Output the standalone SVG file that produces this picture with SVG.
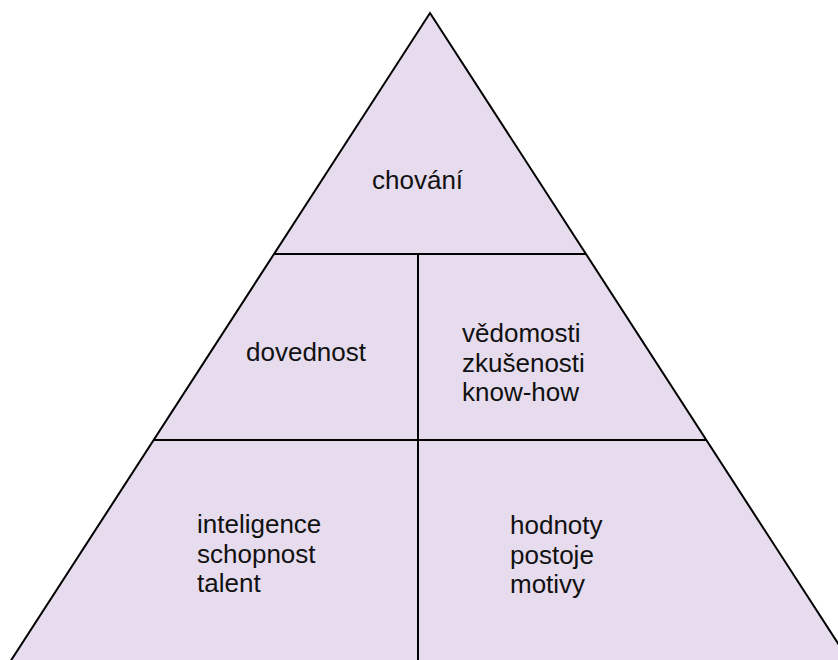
<svg xmlns="http://www.w3.org/2000/svg" width="838" height="660" viewBox="0 0 838 660">
  <style>
    .edge { stroke: #000; stroke-width: 2; fill: none; }
    .label { font-family: "Liberation Sans", Arial, sans-serif; font-size: 26px; fill: #111; }
  </style>
  <rect width="838" height="660" fill="#fff"/>
  <!-- pyramid body -->
  <g id="pyramid">
    <polygon points="430,13 850,662 10,662" fill="#e6dcee" stroke="#000" stroke-width="2" stroke-linejoin="miter"/>
  </g>
  <!-- dividers between levels -->
  <g id="connectors">
    <line class="edge" x1="274" y1="254" x2="586" y2="254"/>
    <line class="edge" x1="153" y1="440" x2="707" y2="440"/>
    <line class="edge" x1="418" y1="254" x2="418" y2="662"/>
  </g>
  <g id="top">
    <text class="label" x="372" y="189">chování</text>
  </g>
  <g id="middle-left">
    <text class="label" x="246" y="361">dovednost</text>
  </g>
  <g id="middle-right">
    <text class="label" x="462" y="342">vědomosti</text>
    <text class="label" x="462" y="371.5">zkušenosti</text>
    <text class="label" x="462" y="401">know-how</text>
  </g>
  <g id="bottom-left">
    <text class="label" x="197" y="533">inteligence</text>
    <text class="label" x="197" y="562.5">schopnost</text>
    <text class="label" x="197" y="592">talent</text>
  </g>
  <g id="bottom-right">
    <text class="label" x="510" y="534">hodnoty</text>
    <text class="label" x="510" y="563.5">postoje</text>
    <text class="label" x="510" y="593">motivy</text>
  </g>
</svg>
